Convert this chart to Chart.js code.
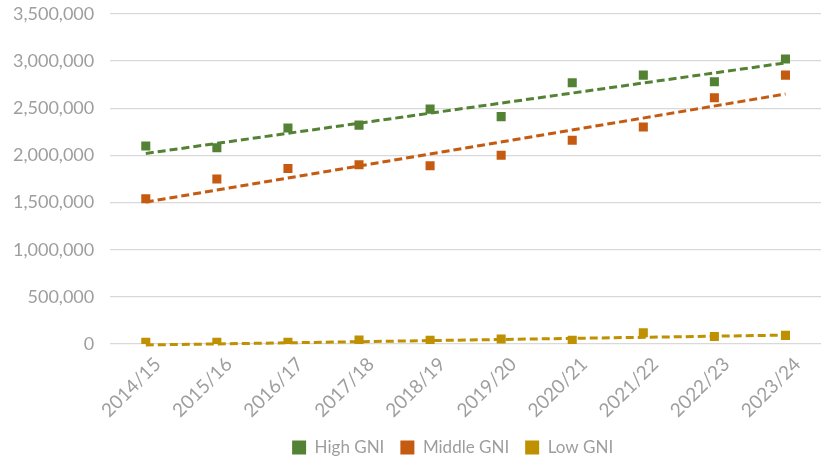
<!DOCTYPE html>
<html>
<head>
<meta charset="utf-8">
<script src="https://cdn.jsdelivr.net/npm/chart.js@4.4.1/dist/chart.umd.min.js"></script>
<style>
  body { margin: 0; background: #fff; }
  #wrap { width: 822px; height: 456px; }
</style>
</head>
<body>
<div id="wrap"><canvas id="myChart"></canvas></div>
<script>
const years = ['2014/15', '2015/16', '2016/17', '2017/18', '2018/19', '2019/20', '2020/21', '2021/22', '2022/23', '2023/24'];

const highGni = [2100000, 2080000, 2290000, 2320000, 2490000, 2410000, 2770000, 2850000, 2780000, 3020000];
const middleGni = [1540000, 1750000, 1860000, 1900000, 1890000, 2000000, 2160000, 2300000, 2610000, 2850000];
const lowGni = [20000, 18000, 20000, 42000, 39000, 53000, 40000, 120000, 81000, 92000];

// trendline ends (first and last year)
const highTrend = [2020000, 2980000];
const middleTrend = [1505000, 2650000];
const lowTrend = [-10000, 95000];

const yTicks = [0, 500000, 1000000, 1500000, 2000000, 2500000, 3000000, 3500000];

const green = '#548235';
const orange = '#C55A11';
const gold = '#BF9000';
const grey = '#9E9E9E';

const trendData = (ends) => years.map((y, i) => i === 0 ? ends[0] : (i === years.length - 1 ? ends[1] : null));

const markers = (label, data, color) => ({
  label: label,
  data: data,
  showLine: false,
  backgroundColor: color,
  borderColor: color,
  borderWidth: 0,
  pointStyle: 'rect',
  pointRadius: 6.4,
  pointHoverRadius: 6.4,
  pointBorderWidth: 0
});

const trend = (label, ends, color) => ({
  label: label,
  data: trendData(ends),
  spanGaps: true,
  borderColor: color,
  backgroundColor: color,
  borderWidth: 3,
  borderDash: [8, 4],
  pointRadius: 0,
  pointHoverRadius: 0,
  clip: false,
  isTrend: true
});

// nudge the legend a bit to the left, like the original
const legendShift = {
  id: 'legendShift',
  afterLayout(chart) {
    chart.legend.left -= 13;
    chart.legend.right -= 13;
  }
};

const ctx = document.getElementById('myChart').getContext('2d');

const myChart = new Chart(ctx, {
  type: 'line',
  data: {
    labels: years,
    datasets: [
      markers('High GNI', highGni, green),
      markers('Middle GNI', middleGni, orange),
      markers('Low GNI', lowGni, gold),
      trend('High trend', highTrend, green),
      trend('Middle trend', middleTrend, orange),
      trend('Low trend', lowTrend, gold)
    ]
  },
  plugins: [legendShift],
  options: {
    responsive: true,
    maintainAspectRatio: false,
    animation: false,
    layout: { autoPadding: false, padding: { top: 0, right: 1, left: 10, bottom: -10 } },
    plugins: {
      tooltip: { enabled: false },
      legend: {
        position: 'bottom',
        fullSize: false,
        labels: {
          filter: (item, data) => !data.datasets[item.datasetIndex].isTrend,
          boxWidth: 14,
          boxHeight: 14,
          padding: 16,
          color: grey,
          font: { family: 'Lato', size: 17 }
        }
      }
    },
    scales: {
      x: {
        offset: true,
        grid: { display: false, drawTicks: false },
        border: { display: false },
        afterFit: (axis) => { axis.height -= 8; },
        ticks: {
          minRotation: 45,
          maxRotation: 45,
          padding: 9,
          labelOffset: 12,
          color: grey,
          font: { family: 'Lato', size: 19 }
        }
      },
      y: {
        min: 0,
        max: 3500000,
        afterBuildTicks: (axis) => { axis.ticks = yTicks.map(v => ({ value: v })); },
        grid: { color: '#D9D9D9', lineWidth: 1.3, drawTicks: true, tickLength: 13, tickColor: 'rgba(0,0,0,0)' },
        border: { display: false },
        ticks: {
          padding: 3,
          color: grey,
          font: { family: 'Lato', size: 18 },
          callback: value => value.toLocaleString('en-US')
        }
      }
    }
  }
});
</script>
</body>
</html>
